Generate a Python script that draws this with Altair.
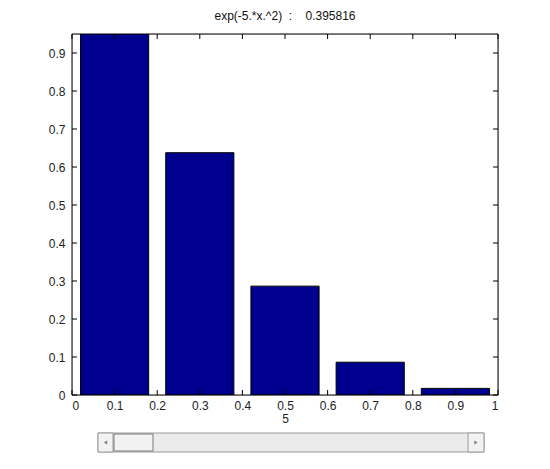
import altair as alt
import pandas as pd

# data
x_centers = [0.1, 0.3, 0.5, 0.7, 0.9]
heights = [0.9512, 0.6376, 0.2865, 0.0863, 0.0174]
x_ticks = [0, 0.1, 0.2, 0.3, 0.4, 0.5, 0.6, 0.7, 0.8, 0.9, 1.0]
y_ticks = [0, 0.1, 0.2, 0.3, 0.4, 0.5, 0.6, 0.7, 0.8, 0.9]
title_text = "exp(-5.*x.^2)\u00a0\u00a0:\u00a0\u00a0\u00a0 0.395816"
x_label = "5"

W, H = 426, 361
FONT = "Liberation Sans"

bars_df = pd.DataFrame({"x": x_centers, "y": heights})
xt_df = pd.DataFrame({"t": x_ticks})
yt_df = pd.DataFrame({"t": y_ticks})

xscale = alt.Scale(domain=[0, 1], nice=False, zero=False, padding=0)
yscale = alt.Scale(domain=[0, 0.95], nice=False, padding=0)

bars = alt.Chart(bars_df).mark_bar(
    size=W * 0.16, color="#00008F", stroke="black", strokeWidth=1, clip=True
).encode(
    x=alt.X("x:Q", scale=xscale, title=x_label,
            axis=alt.Axis(values=x_ticks, format="~g", tickSize=0, grid=False,
                          domain=False, labelFont=FONT, labelFontSize=12,
                          labelColor="#222", labelPadding=5, titleFont=FONT,
                          titleFontSize=12, titleFontWeight="normal",
                          titleColor="#222", titlePadding=2)),
    y=alt.Y("y:Q", scale=yscale, title=None,
            axis=alt.Axis(values=y_ticks, format="~g", tickSize=0, grid=False,
                          domain=False, labelFont=FONT, labelFontSize=12,
                          labelColor="#222", labelPadding=7)),
)

tick_len = 5
bottom_ticks = alt.Chart(xt_df).mark_rule(color="black").encode(
    x=alt.X("t:Q", scale=xscale), y=alt.value(H), y2=alt.value(H - tick_len))
top_ticks = alt.Chart(xt_df).mark_rule(color="black").encode(
    x=alt.X("t:Q", scale=xscale), y=alt.value(0), y2=alt.value(tick_len))
left_ticks = alt.Chart(yt_df).mark_rule(color="black").encode(
    y=alt.Y("t:Q", scale=yscale), x=alt.value(0), x2=alt.value(tick_len))
right_ticks = alt.Chart(yt_df).mark_rule(color="black").encode(
    y=alt.Y("t:Q", scale=yscale), x=alt.value(W), x2=alt.value(W - tick_len))

frame = alt.Chart(pd.DataFrame({"a": [0]})).mark_rect(
    fill=None, stroke="black", strokeWidth=1).encode(
    x=alt.value(0), x2=alt.value(W), y=alt.value(0), y2=alt.value(H))

# scrollbar decoration below the axes
sb_y0, sb_y1 = 399, 418
one = pd.DataFrame({"a": [0]})
sb_track = alt.Chart(one).mark_rect(fill="#ebebeb", stroke="#9a9a9a", strokeWidth=1).encode(
    x=alt.value(26), x2=alt.value(412), y=alt.value(sb_y0), y2=alt.value(sb_y1))
sb_left = alt.Chart(one).mark_rect(fill="#f2f2f2", stroke="#9a9a9a", strokeWidth=1).encode(
    x=alt.value(26), x2=alt.value(41), y=alt.value(sb_y0), y2=alt.value(sb_y1))
sb_thumb = alt.Chart(one).mark_rect(fill="#f2f2f2", stroke="#7a7a7a", strokeWidth=1).encode(
    x=alt.value(42), x2=alt.value(81), y=alt.value(sb_y0 + 1), y2=alt.value(sb_y1 - 1))
sb_right = alt.Chart(one).mark_rect(fill="#f2f2f2", stroke="#9a9a9a", strokeWidth=1).encode(
    x=alt.value(396), x2=alt.value(412), y=alt.value(sb_y0), y2=alt.value(sb_y1))
sb_larrow = alt.Chart(one).mark_point(shape="triangle-left", filled=True, color="#505050", size=16).encode(
    x=alt.value(33.5), y=alt.value((sb_y0 + sb_y1) / 2))
sb_rarrow = alt.Chart(one).mark_point(shape="triangle-right", filled=True, color="#505050", size=16).encode(
    x=alt.value(404), y=alt.value((sb_y0 + sb_y1) / 2))

chart = alt.layer(
    bars, bottom_ticks, top_ticks, left_ticks, right_ticks, frame,
    sb_track, sb_left, sb_thumb, sb_right, sb_larrow, sb_rarrow
).properties(
    width=W, height=H,
    title=alt.TitleParams(title_text, font=FONT, fontSize=12, fontWeight="normal",
                          color="#111", offset=11),
    autosize=alt.AutoSizeParams(type="none"),
    padding={"left": 64, "top": 26, "right": 36, "bottom": 64},
).configure_view(stroke=None).configure(background="white")

chart.save("out.html", embed_options={"renderer": "svg", "actions": False})
